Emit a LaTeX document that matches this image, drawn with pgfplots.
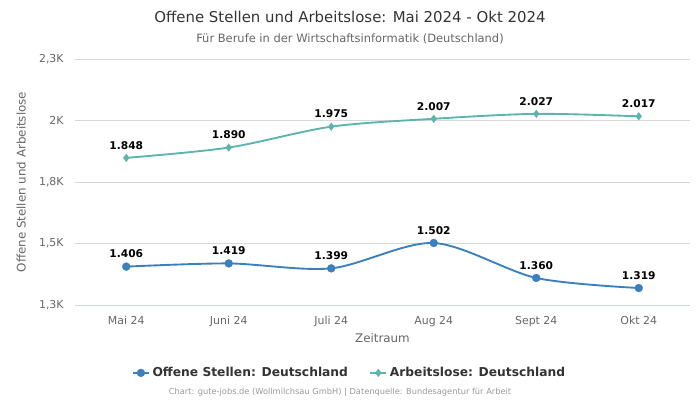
\documentclass[border=0pt]{standalone}
\usepackage{pgfplots}
\pgfplotsset{compat=1.18}
\usepackage{pgfplotstable}
\usepackage{fontspec}
\setmainfont{DejaVu Sans}
\definecolor{cblue}{RGB}{58,127,190}
\definecolor{cteal}{RGB}{92,181,172}
\definecolor{gridc}{RGB}{216,216,216}
\definecolor{axisc}{RGB}{204,214,235}
\definecolor{txt}{RGB}{51,51,51}
\definecolor{subtxt}{RGB}{102,102,102}
\definecolor{foot}{RGB}{153,153,153}

\pgfplotstableread{
x y label
0 1406 1.406
1 1419 1.419
2 1399 1.399
3 1502 1.502
4 1360 1.360
5 1319 1.319
}\offene
\pgfplotstableread{
x y label
0 1848 1.848
1 1890 1.890
2 1975 1.975
3 2007 2.007
4 2027 2.027
5 2017 2.017
}\arbeitslose

\begin{document}
\begin{tikzpicture}
\path[use as bounding box] (0pt,0pt) rectangle (525pt,300pt);
\node[font=\fontsize{11.2pt}{13pt}\selectfont, text=txt] at (262.5pt,287.25pt) {Offene Stellen und Arbeitslose: Mai 2024 - Okt 2024};
\node[font=\fontsize{8.6pt}{10pt}\selectfont, text=subtxt] at (262.5pt,270.75pt) {Für Berufe in der Wirtschaftsinformatik (Deutschland)};
\node[font=\fontsize{6.2pt}{8pt}\selectfont, text=foot] at (255pt,6pt) {Chart: gute-jobs.de (Wollmilchsau GmbH) | Datenquelle: Bundesagentur für Arbeit};
\begin{axis}[
  at={(56.25pt,71.25pt)}, anchor=south west,
  scale only axis, width=461.25pt, height=184.5pt,
  xmin=-0.5, xmax=5.5, ymin=1250, ymax=2250,
  xtick={0,1,2,3,4,5},
  xticklabels={Mai 24,Juni 24,Juli 24,Aug 24,Sept 24,Okt 24},
  ytick={1250,1500,1750,2000,2250},
  yticklabels={{1,3K},{1,5K},{1,8K},{2K},{2,3K}},
  ymajorgrids, grid style={gridc, line width=0.75pt},
  axis x line*=bottom, axis y line*=left,
  x axis line style={axisc, line width=0.75pt, -},
  y axis line style={draw=none},
  major tick length=0pt,
  tick label style={font=\fontsize{8.2pt}{10pt}\selectfont, text=subtxt},
  xticklabel style={yshift=-5pt},
  yticklabel style={xshift=-5pt},
  xlabel={Zeitraum}, ylabel={Offene Stellen und Arbeitslose},
  label style={font=\fontsize{8.9pt}{10pt}\selectfont, text=subtxt},
  xlabel style={yshift=2pt},
  ylabel style={yshift=3pt},
  clip=false,
  legend columns=2,
  legend style={at={(0.447,-0.276)}, anchor=center, draw=none, fill=none,
    font=\bfseries\fontsize{9.2pt}{11pt}\selectfont, text=txt,
    /tikz/every even column/.append style={column sep=14pt}},
  legend image code/.code={
    \draw[#1, mark repeat=2, mark phase=2] plot coordinates {(0pt,0pt) (6pt,0pt) (12pt,0pt)};},
  nodes near coords,
  point meta=explicit symbolic,
  every node near coord/.append style={font=\bfseries\fontsize{8pt}{10pt}\selectfont, text=black, yshift=3pt},
]
\addplot[cblue, line width=1.4pt, smooth, mark=*, mark size=3pt, mark options={solid, fill=cblue, draw=cblue, line width=0.2pt}]
  table[x=x, y=y, meta=label] {\offene};
\addlegendentry{Offene Stellen: Deutschland}
\addplot[cteal, line width=1.4pt, smooth, mark=diamond*, mark size=2.9pt, mark options={solid, fill=cteal, draw=cteal, line width=0.2pt}]
  table[x=x, y=y, meta=label] {\arbeitslose};
\addlegendentry{Arbeitslose: Deutschland}
\end{axis}
\end{tikzpicture}
\end{document}
